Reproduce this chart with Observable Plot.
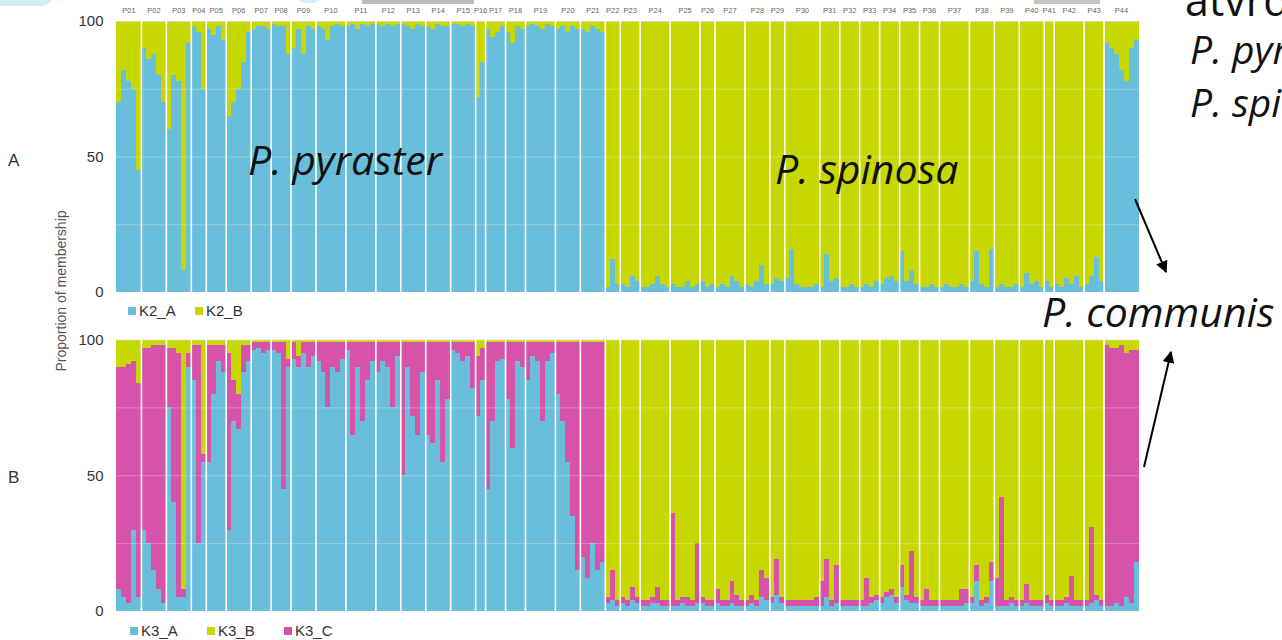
<!DOCTYPE html>
<html><head><meta charset="utf-8">
<script src="https://cdn.jsdelivr.net/npm/d3@7"></script>
<script src="https://cdn.jsdelivr.net/npm/@observablehq/plot@0.6"></script>
<style>
html,body{margin:0;padding:0;width:1282px;height:640px;overflow:hidden;background:#fff;}
#root{position:relative;width:1282px;height:640px;overflow:hidden;}
.leg{position:absolute;font-family:"Liberation Sans",Arial,sans-serif;font-size:15px;color:#333;display:flex;align-items:center;white-space:nowrap;}
.leg span.sq{display:inline-block;width:8px;height:8px;margin-right:3px;}
</style></head><body><div id="root"></div>
<script>
// ---------------- DATA ----------------
const pops = ["P01","P02","P03","P04","P05","P06","P07","P08","P09","P10","P11","P12","P13","P14","P15","P16","P17","P18","P19","P20","P21","P22","P23","P24","P25","P26","P27","P28","P29","P30","P31","P32","P33","P34","P35","P36","P37","P38","P39","P40","P41","P42","P43","P44"];

// K = 2 : proportion of membership (%) per (grouped) individual, by population
const k2A = [
 [70,82,78,75,45],[90,86,88,80,70],[60,80,78,8,92],[98,96,75],[97,95,98,93],
 [65,70,75,85,96],[97,98,98,97],[99,98,98,88],[90,97,88,98,97],[98,97,93,98,99,98],
 [98,99,97,99,98,99],[99,98,99,98,99],[99,98,97,99,98],[98,97,99,98,98],[99,99,98,99,98],
 [72,85],[97,94,96,98],[96,92,98,97],[98,99,98,97,99,98],[97,98,96,98,97],
 [97,96,98,97,96],[2,12,3],[3,2,6,4],[2,2,3,6,3,2],[3,2,2,4,2,3],
 [4,2,3],[2,3,2,6,4,2],[3,2,4,10,3],[3,5,4],[5,16,3,2,2,2,3],
 [2,14,4,5],[2,2,3,2],[2,3,2,4],[3,5,6,4],[15,4,8,3],
 [2,2,3,2],[2,3,2,2,3,2],[4,15,3,2,16],[2,3,2,2,3],[2,7,3,4,2],
 [4,2],[3,2,5,3,6,2],[3,6,13,4],[92,90,88,82,78,90,93]
];
const k2B = [
 [30,18,22,25,55],[10,14,12,20,30],[40,20,22,92,8],[2,4,25],[3,5,2,7],
 [35,30,25,15,4],[3,2,2,3],[1,2,2,12],[10,3,12,2,3],[2,3,7,2,1,2],
 [2,1,3,1,2,1],[1,2,1,2,1],[1,2,3,1,2],[2,3,1,2,2],[1,1,2,1,2],
 [28,15],[3,6,4,2],[4,8,2,3],[2,1,2,3,1,2],[3,2,4,2,3],
 [3,4,2,3,4],[98,88,97],[97,98,94,96],[98,98,97,94,97,98],[97,98,98,96,98,97],
 [96,98,97],[98,97,98,94,96,98],[97,98,96,90,97],[97,95,96],[95,84,97,98,98,98,97],
 [98,86,96,95],[98,98,97,98],[98,97,98,96],[97,95,94,96],[85,96,92,97],
 [98,98,97,98],[98,97,98,98,97,98],[96,85,97,98,84],[98,97,98,98,97],[98,93,97,96,98],
 [96,98],[97,98,95,97,94,98],[97,94,87,96],[8,10,12,18,22,10,7]
];

// K = 3
const k3A = [
 [8,5,3,30,5],[30,25,15,8,3],[75,40,5,5,90],[85,25,55],[55,80,92,88],
 [30,70,67,88,92],[96,97,95,96],[96,95,45,90],[93,90,95,90,94],[92,88,75,90,88,93],
 [96,65,90,70,85,92],[88,92,90,75,94],[50,90,72,65,88],[65,62,85,55,78],[96,95,92,94,82],
 [72,85],[45,70,92,93],[78,60,92,90],[85,94,92,70,92,95],[80,70,55,35,15],
 [20,12,25,15,18],[3,4,2],[3,2,4,3],[2,2,3,3,2,2],[2,2,3,2,2,3],
 [3,2,2],[3,2,2,3,2,2],[2,3,2,5,4],[3,6,3],[2,2,2,2,2,2,2],
 [2,5,2,3],[2,2,2,2],[2,2,3,4],[3,5,6,3],[9,4,3,3],
 [2,2,2,2],[2,2,2,2,2,3],[3,11,2,3,11],[2,2,2,3,2],[2,3,2,2,2],
 [3,2],[2,2,3,2,2,2],[2,3,4,2],[2,2,3,2,5,3,18]
];
const k3C = [
 [82,85,88,62,79],[67,72,83,90,95],[22,57,90,3,5],[13,73,3],[43,18,6,10],
 [65,15,13,10,6],[3,2,4,3],[3,4,54,3],[6,4,4,9,5],[7,11,24,9,11,6],
 [3,34,9,29,14,7],[11,7,9,24,5],[49,9,27,34,11],[34,37,14,44,21],[3,4,7,5,17],
 [22,12],[54,29,7,6],[21,39,7,9],[14,5,7,29,7,4],[19,29,44,64,84],
 [79,87,74,84,81],[2,11,2],[2,2,5,2],[2,2,2,6,2,2],[34,2,2,3,2,22],
 [2,2,2],[5,2,2,8,4,2],[2,3,2,10,8],[2,13,2],[2,2,2,2,2,2,3],
 [9,14,2,14],[2,2,2,2],[2,10,2,2],[2,2,2,2],[8,2,19,2],
 [2,6,2,2],[2,2,2,2,6,5],[2,6,2,2,7],[10,40,2,2,2],[2,7,2,2,2],
 [3,2],[2,2,2,11,2,2],[2,28,2,2],[96,95,94,96,90,93,78]
];
const k3B = [
 [10,10,9,8,16],[3,3,2,2,2],[3,3,5,92,5],[2,2,42],[2,2,2,2],
 [5,15,20,2,2],[1,1,1,1],[1,1,1,7],[1,6,1,1,1],[1,1,1,1,1,1],
 [1,1,1,1,1,1],[1,1,1,1,1],[1,1,1,1,1],[1,1,1,1,1],[1,1,1,1,1],
 [6,3],[1,1,1,1],[1,1,1,1],[1,1,1,1,1,1],[1,1,1,1,1],
 [1,1,1,1,1],[95,85,96],[95,96,91,95],[96,96,95,91,96,96],[64,96,95,95,96,75],
 [95,96,96],[92,96,96,89,94,96],[96,94,96,85,88],[95,81,95],[96,96,96,96,96,96,95],
 [89,81,96,83],[96,96,96,96],[96,88,95,94],[95,93,92,95],[83,94,78,95],
 [96,92,96,96],[96,96,96,96,92,92],[95,83,96,95,82],[88,58,96,95,96],[96,90,96,96,96],
 [94,96],[96,96,95,87,96,96],[96,69,94,96],[2,3,3,2,5,4,4]
];

const yTicks = [0, 50, 100];
const k2Keys = ["K2_A","K2_B"];
const k3Keys = ["K3_A","K3_B","K3_C"];
const cBlue = "#69bfdb", cGreen = "#c6d800", cMag = "#d653a9";

// ---------------- BUILD ----------------
function buildRows(series) {
  const rows = []; let i = 0;
  pops.forEach((p, pi) => {
    const n = series[0].vals[pi].length;
    for (let j = 0; j < n; j++) {
      for (const s of series) rows.push({i, pop: p, comp: s.key, v: s.vals[pi][j]});
      i++;
    }
  });
  return rows;
}
const counts = k2A.map(a => a.length);
const starts = []; let acc = 0;
counts.forEach(c => { starts.push(acc); acc += c; });
const N = acc;
const bounds = starts.slice(1);
const labelData = pops.map((p, k) => ({p, c: starts[k] + counts[k] / 2}));

function panel(rows, domain, range, showLabels, mt, mb) {
  return Plot.plot({
    width: 1282, height: 300,
    marginLeft: 116, marginRight: 143.5, marginTop: mt, marginBottom: mb,
    x: {domain: [0, N], axis: null},
    y: {domain: [0, 100]},
    color: {domain, range},
    style: {fontFamily: "'Liberation Sans', Arial, sans-serif", background: "transparent", overflow: "visible"},
    marks: [
      Plot.rectY(rows, {x1: "i", x2: d => d.i + 1, y: "v", fill: "comp", shapeRendering: "crispEdges"}),
      Plot.ruleY([25, 50, 75], {stroke: "#ffffff", strokeOpacity: 0.28}),
      Plot.ruleY([100], {stroke: "#d8d8d8", strokeWidth: 0.8}),
      Plot.ruleX(bounds, {stroke: "#ffffff", strokeWidth: 1.6}),
      Plot.axisY({ticks: yTicks, tickSize: 0, tickPadding: 13, fontSize: 15, fill: "#333", label: null}),
      showLabels ? Plot.text(labelData, {x: "c", y: 100, text: "p", dy: -11, fontSize: 7.5, fill: "#666"}) : null
    ]
  });
}

const root = document.getElementById("root");
function place(el, left, top) { el.style.position = "absolute"; el.style.left = left + "px"; el.style.top = top + "px"; root.appendChild(el); return el; }

// decorations at the top edge (fragments of slide images)
function deco(l, t, w, h, bg, r) { const d = document.createElement("div"); d.style.cssText = `width:${w}px;height:${h}px;background:${bg};border-radius:${r};`; place(d, l, t); }
deco(-10, -8, 62, 14, "#cfeef6", "0 0 10px 0");
deco(296, -6, 26, 9, "#d6f0f7", "0 0 12px 12px");
deco(362, 0, 112, 4, "#b9b9b9", "0");
deco(1034, 0, 66, 4, "#c4c4c4", "0");

const rowsA = buildRows([{key: "K2_A", vals: k2A}, {key: "K2_B", vals: k2B}]);
const rowsB = buildRows([{key: "K3_A", vals: k3A}, {key: "K3_C", vals: k3C}, {key: "K3_B", vals: k3B}]);
place(panel(rowsA, k2Keys, [cBlue, cGreen], true, 21, 8), 0, 0);
place(panel(rowsB, k3Keys, [cBlue, cGreen, cMag], false, 19.5, 9), 0, 320);

// legends
function legend(keys, colors, left, top, gap) {
  keys.forEach((k, j) => {
    const d = document.createElement("div"); d.className = "leg";
    d.innerHTML = `<span class="sq" style="background:${colors[j]}"></span>${k}`;
    place(d, left + j * gap, top);
  });
}
legend(k2Keys, [cBlue, cGreen], 128, 302, 67);
legend(k3Keys, [cBlue, cGreen, cMag], 130, 622, 77);

// annotation overlay
const ns = "http://www.w3.org/2000/svg";
const ov = document.createElementNS(ns, "svg");
ov.setAttribute("width", 1282); ov.setAttribute("height", 640);
ov.style.cssText = "position:absolute;left:0;top:0;overflow:hidden;";
root.appendChild(ov);
ov.innerHTML = `
<defs><marker id="ah" viewBox="0 0 10 10" refX="9" refY="5" markerWidth="6" markerHeight="6" orient="auto-start-reverse">
<path d="M0,0 L10,5 L0,10 z" fill="#000"/></marker></defs>
<g font-family="'Open Sans', Lato, sans-serif" fill="#111">
<text x="248" y="175" font-size="41" font-style="italic">P. pyraster</text>
<text x="775" y="184" font-size="41" font-style="italic">P. spinosa</text>
<text x="1042" y="327" font-size="41" font-style="italic">P. communis</text>
<text x="1185" y="16" font-size="43">atvrd</text>
<text x="1190" y="64" font-size="39" font-style="italic">P. pyr</text>
<text x="1190" y="117" font-size="39" font-style="italic">P. spi</text>
</g>
<g font-family="'Liberation Sans', Arial, sans-serif" fill="#333">
<text x="8" y="166" font-size="17">A</text>
<text x="8" y="483" font-size="17">B</text>
<text transform="translate(66,291) rotate(-90)" text-anchor="middle" font-size="14" fill="#555">Proportion of membership</text>
</g>
<line x1="1135" y1="199" x2="1166" y2="272" stroke="#000" stroke-width="2" marker-end="url(#ah)"/>
<line x1="1144" y1="467" x2="1171" y2="352" stroke="#000" stroke-width="2" marker-end="url(#ah)"/>
`;
</script></body></html>
